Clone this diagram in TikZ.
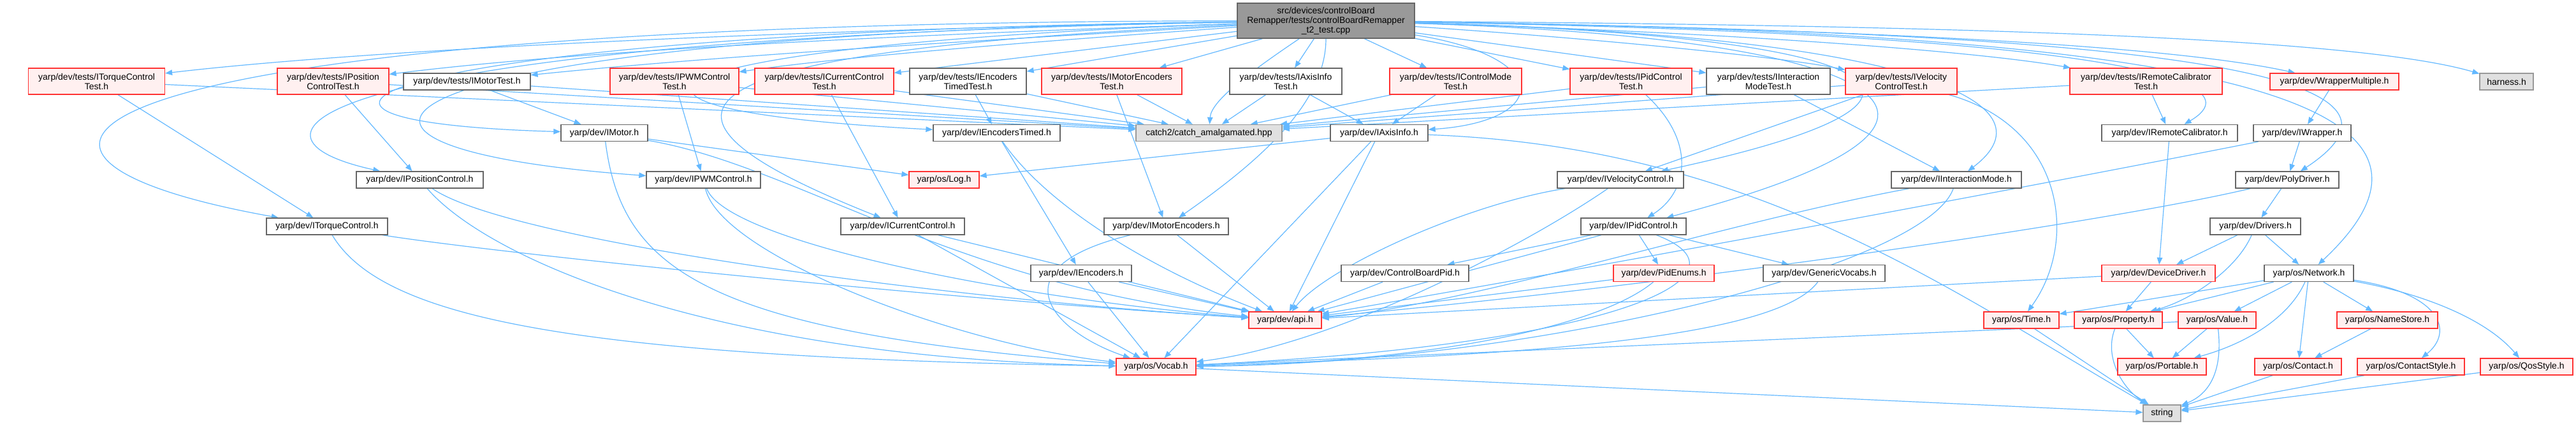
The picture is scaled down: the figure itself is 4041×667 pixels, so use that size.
\documentclass[tikz,border=0pt]{standalone}
\usepackage{fontspec}
\setmainfont{Liberation Sans}
\usetikzlibrary{arrows.meta,backgrounds}
\definecolor{depblue}{HTML}{63B8FF}
\definecolor{redline}{HTML}{FF3333}
\definecolor{redfill}{HTML}{FFF0F0}
\definecolor{greyline}{HTML}{666666}
\definecolor{extfill}{HTML}{E0E0E0}
\definecolor{extline}{HTML}{999999}
\definecolor{rootfill}{HTML}{999999}
\begin{document}
\begin{tikzpicture}[x=1pt,y=-1pt,
  every node/.style={font=\fontsize{14}{15}\selectfont,inner sep=0pt,align=center,line width=1.3pt},
  hdr/.style={draw=greyline,fill=white,minimum height=26pt},
  hdrtwo/.style={hdr,minimum height=41pt},
  bad/.style={draw=redline,fill=redfill,minimum height=26pt},
  badtwo/.style={bad,minimum height=41pt},
  ext/.style={draw=extline,fill=extfill,minimum height=26pt},
  rootbox/.style={draw=greyline,fill=rootfill,minimum height=55pt},
  dep/.style={draw=depblue,line width=1.2pt,-{Triangle[length=11pt,width=8.5pt]}}]
\useasboundingbox (0,0) rectangle (4041,667);
% file under test
\node[rootbox,minimum width=278pt] (main) at (2080,32.5) {src/devices/controlBoard\\Remapper/tests/controlBoardRemapper\\\_t2\_test.cpp};
% test headers
\node[badtwo,minimum width=214pt] (tTorque) at (151.5,127.5) {yarp/dev/tests/ITorqueControl\\Test.h};
\node[badtwo,minimum width=175pt] (tPos) at (522.5,127.5) {yarp/dev/tests/IPosition\\ControlTest.h};
\node[hdr,minimum width=199pt] (tMotor) at (732.5,128) {yarp/dev/tests/IMotorTest.h};
\node[badtwo,minimum width=202pt] (tPWM) at (1058,127.5) {yarp/dev/tests/IPWMControl\\Test.h};
\node[badtwo,minimum width=218pt] (tCurr) at (1293,127.5) {yarp/dev/tests/ICurrentControl\\Test.h};
\node[hdrtwo,minimum width=183pt] (tEncT) at (1518.5,127.5) {yarp/dev/tests/IEncoders\\TimedTest.h};
\node[badtwo,minimum width=220pt] (tMEnc) at (1744,127.5) {yarp/dev/tests/IMotorEncoders\\Test.h};
\node[hdrtwo,minimum width=176pt] (tAxis) at (2017,127.5) {yarp/dev/tests/IAxisInfo\\Test.h};
\node[badtwo,minimum width=207pt] (tCMode) at (2283.5,127.5) {yarp/dev/tests/IControlMode\\Test.h};
\node[badtwo,minimum width=191pt] (tPid) at (2558.5,127.5) {yarp/dev/tests/IPidControl\\Test.h};
\node[hdrtwo,minimum width=194pt] (tInter) at (2774,127.5) {yarp/dev/tests/IInteraction\\ModeTest.h};
\node[badtwo,minimum width=175pt] (tVel) at (2982.5,127.5) {yarp/dev/tests/IVelocity\\ControlTest.h};
\node[badtwo,minimum width=239pt] (tRCal) at (3366.5,127.5) {yarp/dev/tests/IRemoteCalibrator\\Test.h};
\node[bad,minimum width=202pt] (wrapM) at (3662,128) {yarp/dev/WrapperMultiple.h};
\node[ext,minimum width=84pt] (harness) at (3932,128) {harness.h};
% interfaces
\node[hdr,minimum width=136pt] (IMotor) at (948,208.5) {yarp/dev/IMotor.h};
\node[hdr,minimum width=199pt] (IEncT) at (1563.5,208.5) {yarp/dev/IEncodersTimed.h};
\node[ext,minimum width=229pt] (catch) at (1896.5,208.5) {catch2/catch\_amalgamated.hpp};
\node[hdr,minimum width=153pt] (IAxis) at (2163.5,208.5) {yarp/dev/IAxisInfo.h};
\node[hdr,minimum width=213pt] (IRCal) at (3403.5,208.5) {yarp/dev/IRemoteCalibrator.h};
\node[hdr,minimum width=153pt] (IWrap) at (3611.5,208.5) {yarp/dev/IWrapper.h};
\node[hdr,minimum width=199pt] (IPos) at (658.5,282) {yarp/dev/IPositionControl.h};
\node[hdr,minimum width=179pt] (IPWM) at (1103.5,282) {yarp/dev/IPWMControl.h};
\node[bad,minimum width=110pt] (Log) at (1481,282) {yarp/os/Log.h};
\node[hdr,minimum width=198pt] (IVel) at (2542,282) {yarp/dev/IVelocityControl.h};
\node[hdr,minimum width=204pt] (IInter) at (3069,282) {yarp/dev/IInteractionMode.h};
\node[hdr,minimum width=162pt] (Poly) at (3588,282) {yarp/dev/PolyDriver.h};
\node[hdr,minimum width=190pt] (ITorque) at (513,355) {yarp/dev/ITorqueControl.h};
\node[hdr,minimum width=194pt] (ICurr) at (1416,355) {yarp/dev/ICurrentControl.h};
\node[hdr,minimum width=195pt] (IMEnc) at (1829.5,355) {yarp/dev/IMotorEncoders.h};
\node[hdr,minimum width=165pt] (IPid) at (2562.5,355) {yarp/dev/IPidControl.h};
\node[hdr,minimum width=142pt] (Drivers) at (3538,355) {yarp/dev/Drivers.h};
\node[hdr,minimum width=158pt] (IEnc) at (1696,428.5) {yarp/dev/IEncoders.h};
\node[hdr,minimum width=200pt] (CBPid) at (2204,428.5) {yarp/dev/ControlBoardPid.h};
\node[bad,minimum width=158pt] (PidEnums) at (2610,428.5) {yarp/dev/PidEnums.h};
\node[hdr,minimum width=191pt] (GenVoc) at (2861.5,428.5) {yarp/dev/GenericVocabs.h};
\node[bad,minimum width=178pt] (DevDrv) at (3386,428.5) {yarp/dev/DeviceDriver.h};
\node[hdr,minimum width=140pt] (Network) at (3622,428.5) {yarp/os/Network.h};
\node[bad,minimum width=114pt] (api) at (2016,502) {yarp/dev/api.h};
\node[bad,minimum width=118pt] (Time) at (3171,502) {yarp/os/Time.h};
\node[bad,minimum width=138pt] (Prop) at (3323,502) {yarp/os/Property.h};
\node[bad,minimum width=122pt] (Value) at (3478,502) {yarp/os/Value.h};
\node[bad,minimum width=158pt] (NameStore) at (3745,502) {yarp/os/NameStore.h};
\node[bad,minimum width=125pt] (Vocab) at (1813.5,575) {yarp/os/Vocab.h};
\node[bad,minimum width=139pt] (Portable) at (3391.5,575) {yarp/os/Portable.h};
\node[bad,minimum width=136pt] (Contact) at (3605,575) {yarp/os/Contact.h};
\node[bad,minimum width=168pt] (CStyle) at (3782,575) {yarp/os/ContactStyle.h};
\node[bad,minimum width=145pt] (Qos) at (3963.5,575) {yarp/os/QosStyle.h};
\node[ext,minimum width=59pt] (string) at (3391.5,648) {string};
\begin{scope}[on background layer]
% includes of the file under test
\draw[dep] (main) .. controls (1300,45) and (600,75) .. (tTorque);
\draw[dep] (main) .. controls (1400,55) and (900,80) .. (tPos);
\draw[dep] (main) .. controls (1500,65) and (1100,90) .. (tMotor);
\draw[dep] (main) .. controls (1700,60) and (1350,85) .. (tPWM);
\draw[dep] (main) -- (tCurr);
\draw[dep] (main) -- (tEncT);
\draw[dep] (main) -- (tMEnc);
\draw[dep] (main) -- (tAxis);
\draw[dep] (main) -- (tCMode);
\draw[dep] (main) -- (tPid);
\draw[dep] (main) -- (tInter);
\draw[dep] (main) .. controls (2500,60) and (2800,90) .. (tVel);
\draw[dep] (main) .. controls (2700,50) and (3100,80) .. (tRCal);
\draw[dep] (main) .. controls (2900,45) and (3400,70) .. (wrapM);
\draw[dep] (main) .. controls (3100,40) and (3700,60) .. (harness);
\draw[dep] (main) .. controls (1950,120) and (1900,160) .. (catch);
\draw[dep] (main) .. controls (2440,90) and (2430,190) .. (IAxis);
\draw[dep] (main) .. controls (600,50) and (300,190) .. (IMotor);
\draw[dep] (main) .. controls (500,60) and (330,210) .. (IPos);
\draw[dep] (main) .. controls (80,35) and (-130,240) .. (ITorque);
\draw[dep] (main) .. controls (550,55) and (380,230) .. (IPWM);
\draw[dep] (main) .. controls (1000,70) and (830,170) .. (IEncT);
\draw[dep] (main) .. controls (1050,80) and (950,170) .. (ICurr);
\draw[dep] (main) .. controls (2080,160) and (1980,250) .. (IMEnc);
\draw[dep] (main) .. controls (2950,55) and (3160,150) .. (IVel);
\draw[dep] (main) .. controls (3000,55) and (3230,160) .. (IInter);
\draw[dep] (main) .. controls (2980,60) and (3190,190) .. (IPid);
\draw[dep] (main) .. controls (3150,50) and (3570,110) .. (IRCal);
\draw[dep] (main) .. controls (3350,50) and (3850,110) .. (Poly);
\draw[dep] (main) .. controls (3450,50) and (3920,150) .. (Network);
% test headers
\draw[dep] (tTorque) -- (catch);
\draw[dep] (tPos) -- (catch);
\draw[dep] (tMotor) -- (catch);
\draw[dep] (tPWM) -- (catch);
\draw[dep] (tCurr) -- (catch);
\draw[dep] (tEncT) -- (catch);
\draw[dep] (tMEnc) -- (catch);
\draw[dep] (tAxis) -- (catch);
\draw[dep] (tCMode) -- (catch);
\draw[dep] (tPid) -- (catch);
\draw[dep] (tInter) -- (catch);
\draw[dep] (tVel) -- (catch);
\draw[dep] (tRCal) -- (catch);
\draw[dep] (tTorque) -- (ITorque);
\draw[dep] (tPos) -- (IPos);
\draw[dep] (tMotor) -- (IMotor);
\draw[dep] (tPWM) -- (IPWM);
\draw[dep] (tCurr) -- (ICurr);
\draw[dep] (tEncT) -- (IEncT);
\draw[dep] (tMEnc) -- (IMEnc);
\draw[dep] (tAxis) -- (IAxis);
\draw[dep] (tCMode) -- (IAxis);
\draw[dep] (tPid) .. controls (2660,220) and (2650,300) .. (IPid);
\draw[dep] (tInter) -- (IInter);
\draw[dep] (tVel) -- (IVel);
\draw[dep] (tVel) .. controls (3240,200) and (3260,380) .. (Time);
\draw[dep] (tRCal) -- (IRCal);
% devices
\draw[dep] (wrapM) -- (IWrap);
\draw[dep] (IWrap) -- (Poly);
\draw[dep] (IWrap) .. controls (3200,290) and (2500,420) .. (api);
\draw[dep] (Poly) -- (Drivers);
\draw[dep] (Poly) .. controls (3300,350) and (2600,450) .. (api);
\draw[dep] (IRCal) -- (DevDrv);
\draw[dep] (Drivers) -- (DevDrv);
\draw[dep] (Drivers) .. controls (3510,420) and (3440,470) .. (Prop);
\draw[dep] (Drivers) -- (Network);
\draw[dep] (DevDrv) -- (Prop);
\draw[dep] (DevDrv) -- (api);
% yarp os
\draw[dep] (Network) -- (Time);
\draw[dep] (Network) -- (Prop);
\draw[dep] (Network) -- (Value);
\draw[dep] (Network) .. controls (3590,500) and (3520,540) .. (Portable);
\draw[dep] (Network) -- (Contact);
\draw[dep] (Network) -- (NameStore);
\draw[dep] (Network) .. controls (3830,460) and (3850,520) .. (CStyle);
\draw[dep] (Network) .. controls (3800,460) and (3900,500) .. (Qos);
\draw[dep] (Time) -- (string);
\draw[dep] (Prop) -- (Portable);
\draw[dep] (Prop) .. controls (3300,560) and (3330,610) .. (string);
\draw[dep] (Value) -- (Portable);
\draw[dep] (Value) .. controls (3488,590) and (3460,620) .. (string);
\draw[dep] (Value) -- (Vocab);
\draw[dep] (NameStore) -- (Contact);
\draw[dep] (Contact) -- (string);
\draw[dep] (CStyle) -- (string);
\draw[dep] (Qos) -- (string);
\draw[dep] (Vocab) -- (string);
% interfaces
\draw[dep] (IMotor) -- (Log);
\draw[dep] (IMotor) .. controls (1250,260) and (1500,450) .. (api);
\draw[dep] (IMotor) .. controls (975,420) and (1100,520) .. (Vocab);
\draw[dep] (IAxis) -- (Log);
\draw[dep] (IAxis) -- (api);
\draw[dep] (IAxis) -- (Vocab);
\draw[dep] (IAxis) .. controls (2750,230) and (3050,450) .. (string);
\draw[dep] (IPos) .. controls (800,380) and (1500,470) .. (api);
\draw[dep] (IPos) .. controls (760,400) and (1100,560) .. (Vocab);
\draw[dep] (ITorque) .. controls (800,400) and (1500,470) .. (api);
\draw[dep] (ITorque) .. controls (600,500) and (900,560) .. (Vocab);
\draw[dep] (IPWM) .. controls (1140,380) and (1600,470) .. (api);
\draw[dep] (IPWM) .. controls (1130,400) and (1500,540) .. (Vocab);
\draw[dep] (ICurr) -- (api);
\draw[dep] (ICurr) -- (Vocab);
\draw[dep] (IEncT) -- (IEnc);
\draw[dep] (IEncT) .. controls (1640,320) and (1800,420) .. (api);
\draw[dep] (IEnc) -- (api);
\draw[dep] (IEnc) -- (Vocab);
\draw[dep] (IMEnc) -- (api);
\draw[dep] (IMEnc) .. controls (1560,420) and (1650,520) .. (Vocab);
\draw[dep] (IVel) .. controls (2300,320) and (2080,420) .. (api);
\draw[dep] (IVel) .. controls (2400,380) and (2100,540) .. (Vocab);
\draw[dep] (IInter) .. controls (2700,350) and (2300,480) .. (api);
\draw[dep] (IInter) .. controls (3020,420) and (2400,570) .. (Vocab);
\draw[dep] (IPid) -- (CBPid);
\draw[dep] (IPid) -- (PidEnums);
\draw[dep] (IPid) -- (GenVoc);
\draw[dep] (IPid) -- (api);
\draw[dep] (IPid) .. controls (2760,430) and (2550,540) .. (Vocab);
\draw[dep] (CBPid) -- (api);
\draw[dep] (PidEnums) -- (api);
\draw[dep] (PidEnums) .. controls (2500,520) and (2200,570) .. (Vocab);
\draw[dep] (GenVoc) .. controls (2780,540) and (2300,560) .. (Vocab);
\end{scope}
\end{tikzpicture}
\end{document}
